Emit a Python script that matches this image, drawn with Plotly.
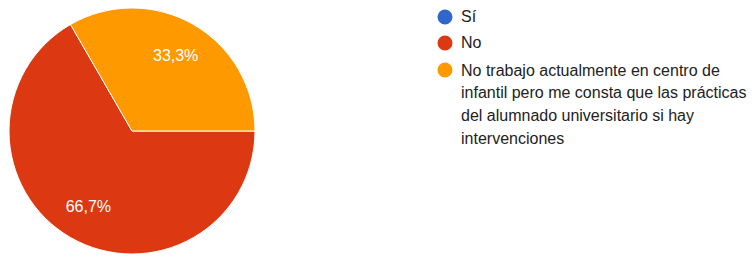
import plotly.graph_objects as go

labels = ["Sí", "No",
          "No trabajo actualmente en centro de\ninfantil pero me consta que las prácticas\ndel alumnado universitario si hay\nintervenciones"]
values = [0, 2, 1]
colors = ["#3366cc", "#dc3912", "#ff9900"]

W, H = 756, 257
OFF = 8  # page body margin

def px(x):
    return (x - OFF) / W

def py(y):
    return 1 - (y - OFF) / H

dom = dict(x=[px(9), px(255)], y=[py(254), py(8)])

fig = go.Figure()
fig.add_trace(go.Pie(
    labels=labels,
    values=values,
    marker=dict(colors=colors, line=dict(color="white", width=1)),
    sort=False,
    direction="clockwise",
    rotation=90,
    textinfo="none",
    hoverinfo="label+percent",
    domain=dom,
    showlegend=False,
))
# transparent ring carrying the percentage labels at ~0.7 of the radius
fig.add_trace(go.Pie(
    labels=labels,
    values=values,
    hole=0.42,
    marker=dict(colors=["rgba(0,0,0,0)"] * len(values), line=dict(width=0)),
    sort=False,
    direction="clockwise",
    rotation=90,
    texttemplate=["" if v == 0 else "%{percent:.1%}" for v in values],
    textposition="inside",
    insidetextorientation="horizontal",
    textfont=dict(family="Liberation Sans, Arial", size=16, color="white"),
    hoverinfo="skip",
    domain=dom,
    showlegend=False,
))

shapes = []
annotations = []
legend_x = 445
text_x = 459
item_y = [17, 43, 70]
line_h = 22.7
for i, (lab, col) in enumerate(zip(labels, colors)):
    cy = item_y[i]
    r = 7.5
    shapes.append(dict(type="circle", xref="paper", yref="paper",
                       x0=px(legend_x - r), x1=px(legend_x + r),
                       y0=py(cy + r), y1=py(cy - r),
                       fillcolor=col, line=dict(width=0)))
    for j, line in enumerate(lab.split("\n")):
        y = cy + j * line_h
        annotations.append(dict(text=line, xref="paper", yref="paper",
                                x=px(text_x), y=py(y),
                                xanchor="left", yanchor="middle", showarrow=False,
                                font=dict(family="Liberation Sans, Arial", size=16, color="#222222")))

fig.update_layout(
    width=W, height=H,
    margin=dict(l=0, r=0, t=0, b=0),
    paper_bgcolor="white",
    separators=",.",
    shapes=shapes,
    annotations=annotations,
)

fig.write_html("out.html")
